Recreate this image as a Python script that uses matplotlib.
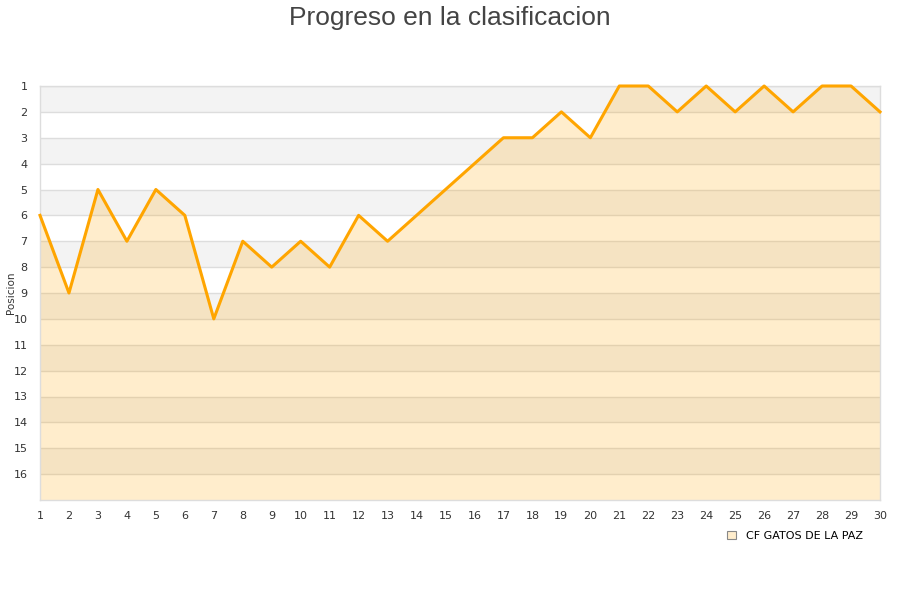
import matplotlib
matplotlib.use("Agg")
import matplotlib.pyplot as plt
from matplotlib.patches import Patch

# Jornadas y posicion del equipo
jornadas = list(range(1, 31))
posiciones = [6, 9, 5, 7, 5, 6, 10, 7, 8, 7, 8, 6, 7, 6, 5, 4, 3, 3, 2, 3,
              1, 1, 2, 1, 2, 1, 2, 1, 1, 2]
equipo = "CF GATOS DE LA PAZ"
num_equipos = 16

LINE = "#FFA500"
GRID = "#dddddd"
TEXT = "#333333"

fig = plt.figure(figsize=(9, 6), dpi=100)
ax = fig.add_axes([40 / 900, 100 / 600, 840 / 900, 414 / 600])

# bandas alternas
for i in range(1, num_equipos + 1, 2):
    ax.axhspan(i, i + 1, color="#f3f3f3", zorder=0, lw=0)

# lineas de la rejilla debajo del relleno
for i in range(1, num_equipos + 1):
    ax.axhline(i, color=GRID, lw=1, zorder=0.5)

ax.fill_between(jornadas, posiciones, num_equipos + 1, color=LINE, alpha=0.2,
                lw=0, zorder=1)
ax.plot(jornadas, posiciones, color=LINE, lw=2.2, zorder=3, clip_on=False)

ax.set_xlim(1, 30)
ax.set_ylim(num_equipos + 1, 1)
ax.set_xticks(jornadas)
ax.set_yticks(range(1, num_equipos + 1))
for s in ax.spines.values():
    s.set_color(GRID)
    s.set_linewidth(1)
ax.tick_params(length=0, labelsize=8, colors=TEXT, pad=8)
ax.tick_params(axis="y", pad=9)

fig.text(11 / 900, 1 - 293 / 600, "Posicion", rotation=90, ha="center",
         va="center", fontsize=7.5, color=TEXT)
fig.text(0.5, 0.99, "Progreso en la clasificacion", ha="center", va="top",
         fontsize=19, color="#444444", family="Liberation Sans")

handle = Patch(facecolor="#ffedcc", edgecolor="#888888", lw=0.8)
fig.legend([handle], [equipo], loc="center right", bbox_to_anchor=(0.97, 0.107),
           frameon=False, fontsize=8, handlelength=0.8, handleheight=0.8,
           handletextpad=0.9)

fig.savefig("out.png", dpi=100)
